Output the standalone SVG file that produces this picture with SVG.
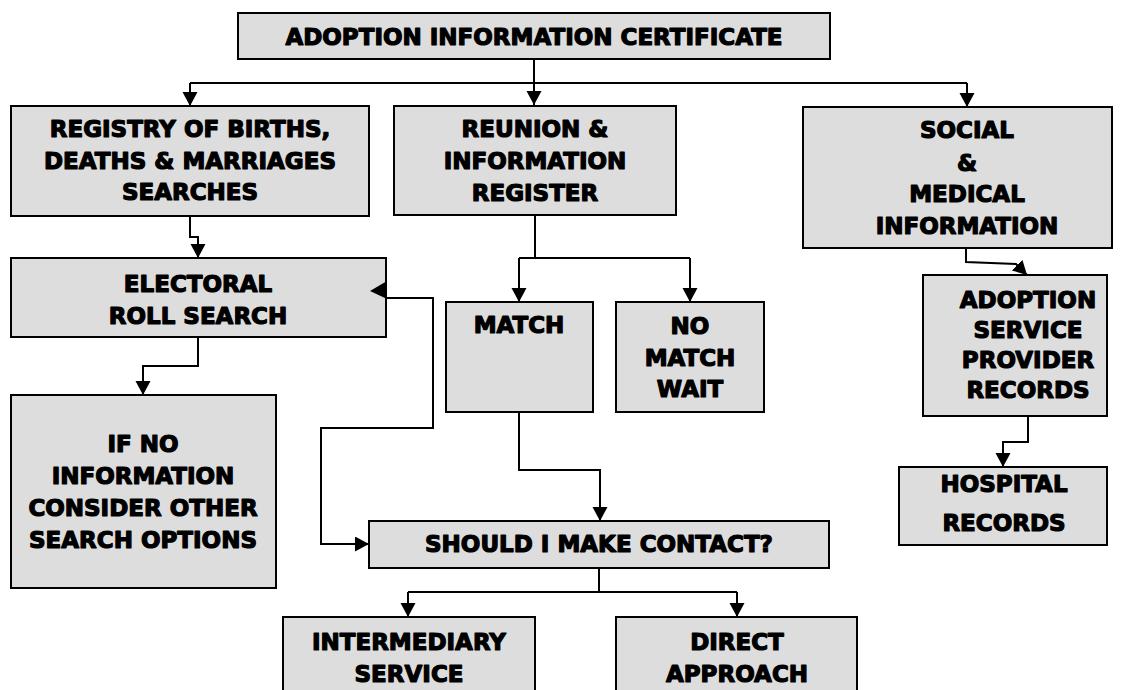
<svg xmlns="http://www.w3.org/2000/svg" width="1122" height="690" viewBox="0 0 1122 690">
<defs>
<marker id="arr" markerUnits="userSpaceOnUse" markerWidth="16" markerHeight="16" refX="14" refY="7.5" orient="auto">
<path d="M0,0 L14,7.5 L0,15 Z" fill="#000"/>
</marker>
<style>
.box{fill:#dddddd;stroke:#000;stroke-width:2}
.t{font-family:"DejaVu Sans","Liberation Sans",sans-serif;font-weight:bold;font-size:23px;fill:#000;stroke:#000;stroke-width:1.2;stroke-linejoin:round;text-anchor:middle}
.c{fill:none;stroke:#000;stroke-width:2}
</style>
</defs>
<rect width="1122" height="690" fill="#fff"/>
<g id="connectors">
<path class="c" d="M534,59 V105" marker-end="url(#arr)"/>
<path class="c" d="M190,83 H967"/>
<path class="c" d="M190,83 V106" marker-end="url(#arr)"/>
<path class="c" d="M967,83 V107" marker-end="url(#arr)"/>
<path class="c" d="M190,216 V237 H198 V258" marker-end="url(#arr)"/>
<path class="c" d="M198,337 V366 H143 V395" marker-end="url(#arr)"/>
<path class="c" d="M535,215 V258"/>
<path class="c" d="M519,258 H690"/>
<path class="c" d="M519,258 V302" marker-end="url(#arr)"/>
<path class="c" d="M690,258 V302" marker-end="url(#arr)"/>
<path class="c" d="M519,412 V470 H600 V521" marker-end="url(#arr)"/>
<path class="c" d="M386,298 H433 V428 H321 V544 H369" marker-end="url(#arr)"/>
<path class="c" d="M599,568 V592"/>
<path class="c" d="M408,592 H737"/>
<path class="c" d="M408,592 V617" marker-end="url(#arr)"/>
<path class="c" d="M737,592 V617" marker-end="url(#arr)"/>
<path class="c" d="M966,248 V262 L1016,264 L1027,275" marker-end="url(#arr)"/>
<path class="c" d="M1028,416 V442 H1003 V467" marker-end="url(#arr)"/>
</g>
<g id="n-top"><rect class="box" x="238" y="13" width="592" height="46"/><text class="t" x="534" y="45">ADOPTION INFORMATION CERTIFICATE</text></g>
<g id="n-registry"><rect class="box" x="11" y="106" width="358" height="110"/>
<text class="t" x="190" y="137">REGISTRY OF BIRTHS,</text><text class="t" x="190" y="169">DEATHS &amp; MARRIAGES</text><text class="t" x="190" y="200">SEARCHES</text></g>
<g id="n-reunion"><rect class="box" x="394" y="106" width="282" height="109"/>
<text class="t" x="535" y="137">REUNION &amp;</text><text class="t" x="535" y="169">INFORMATION</text><text class="t" x="535" y="201">REGISTER</text></g>
<g id="n-social"><rect class="box" x="803" y="107" width="309" height="141"/>
<text class="t" x="967" y="138">SOCIAL</text><text class="t" x="967" y="171">&amp;</text><text class="t" x="967" y="202">MEDICAL</text><text class="t" x="967" y="234">INFORMATION</text></g>
<g id="n-electoral"><rect class="box" x="11" y="258" width="375" height="79"/>
<text class="t" x="198" y="292">ELECTORAL</text><text class="t" x="198" y="324">ROLL SEARCH</text>
<polygon points="370,291 387,281 387,299" fill="#000"/></g>
<g id="n-ifno"><rect class="box" x="11" y="395" width="265" height="193"/>
<text class="t" x="143" y="452">IF NO</text><text class="t" x="143" y="484">INFORMATION</text><text class="t" x="143" y="516">CONSIDER OTHER</text><text class="t" x="143" y="548">SEARCH OPTIONS</text></g>
<g id="n-match"><rect class="box" x="446" y="302" width="147" height="110"/><text class="t" x="519" y="333">MATCH</text></g>
<g id="n-nomatch"><rect class="box" x="616" y="302" width="148" height="110"/>
<text class="t" x="690" y="334">NO</text><text class="t" x="690" y="366">MATCH</text><text class="t" x="690" y="397">WAIT</text></g>
<g id="n-adoption"><rect class="box" x="923" y="275" width="184" height="141"/>
<text class="t" x="1028" y="308">ADOPTION</text><text class="t" x="1028" y="338">SERVICE</text><text class="t" x="1028" y="368">PROVIDER</text><text class="t" x="1028" y="398">RECORDS</text></g>
<g id="n-hospital"><rect class="box" x="899" y="467" width="208" height="78"/>
<text class="t" x="1004" y="492">HOSPITAL</text><text class="t" x="1004" y="531">RECORDS</text></g>
<g id="n-should"><rect class="box" x="369" y="521" width="460" height="47"/><text class="t" x="599" y="552">SHOULD I MAKE CONTACT?</text></g>
<g id="n-intermediary"><rect class="box" x="283" y="617" width="252" height="80"/>
<text class="t" x="409" y="650">INTERMEDIARY</text><text class="t" x="409" y="682">SERVICE</text></g>
<g id="n-direct"><rect class="box" x="616" y="617" width="241" height="80"/>
<text class="t" x="737" y="650">DIRECT</text><text class="t" x="737" y="682">APPROACH</text></g>
</svg>
